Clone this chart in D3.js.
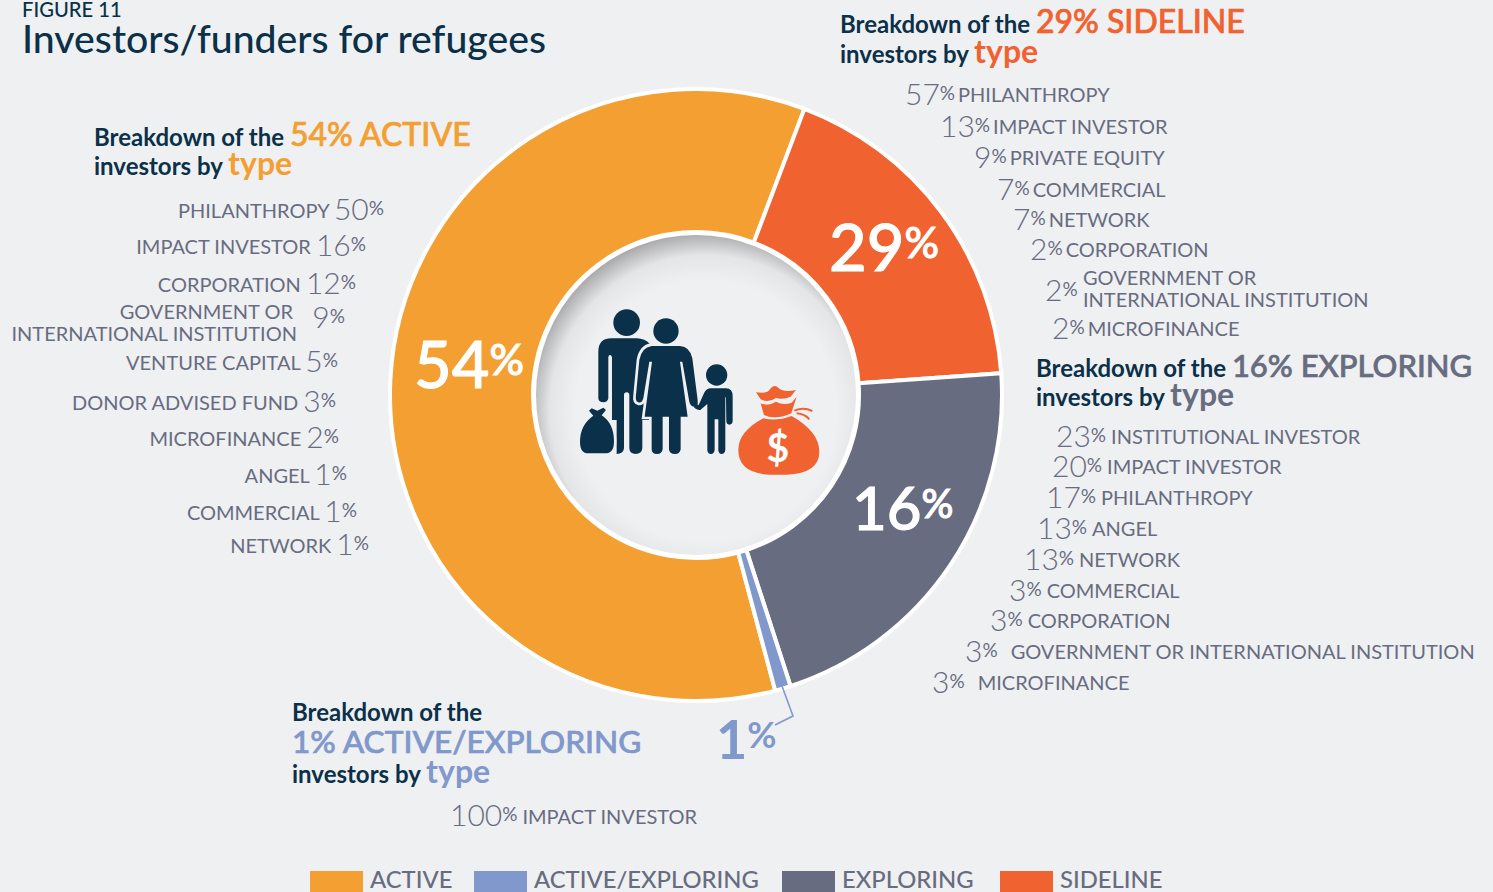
<!DOCTYPE html>
<html><head><meta charset="utf-8">
<script src="https://cdn.jsdelivr.net/npm/d3@7"></script>
<style>html,body{margin:0;padding:0;background:#eff0f2;overflow:hidden}svg{display:block}text{font-family:Lato,sans-serif}</style>
</head><body><svg id="c" width="1493" height="892"></svg>
<script>
// ---- data
const categories=["ACTIVE","ACTIVE/EXPLORING","EXPLORING","SIDELINE"];
const statedShares=[54,1,16,29];
// arc sizes as drawn in the picture (they differ from the printed shares)
const drawnShares=[59.93,0.83,21.14,18.1];
const activeTypes=["PHILANTHROPY","IMPACT INVESTOR","CORPORATION","GOVERNMENT OR\nINTERNATIONAL INSTITUTION","VENTURE CAPITAL","DONOR ADVISED FUND","MICROFINANCE","ANGEL","COMMERCIAL","NETWORK"];
const activeValues=[50,16,12,9,5,3,2,1,1,1];
const sidelineTypes=["PHILANTHROPY","IMPACT INVESTOR","PRIVATE EQUITY","COMMERCIAL","NETWORK","CORPORATION","GOVERNMENT OR\nINTERNATIONAL INSTITUTION","MICROFINANCE"];
const sidelineValues=[57,13,9,7,7,2,2,2];
const exploringTypes=["INSTITUTIONAL INVESTOR","IMPACT INVESTOR","PHILANTHROPY","ANGEL","NETWORK","COMMERCIAL","CORPORATION","GOVERNMENT OR INTERNATIONAL INSTITUTION","MICROFINANCE"];
const exploringValues=[23,20,17,13,13,3,3,3,3];
const mixedTypes=["IMPACT INVESTOR"];
const mixedValues=[100];

// ---- layout (not data)
const colors=new Map([["ACTIVE","#f39f32"],["ACTIVE/EXPLORING","#8098cb"],["EXPLORING","#686c80"],["SIDELINE","#f0622f"]]);
const NAVY="#0b3049",GREY="#686c80";
const activeEndX=[384,366,356,345,338,336,339,347,357,369];
const activeY=[218,254,292,326,370,410,446,483,520,553];
const sidelineX=[905,940,974,997,1013,1030,1045,1052];
const sidelineY=[103,135,166,198,228,258,299,337];
const exploringX=[1056,1052,1046,1037,1024,1009,990,965,932];
const exploringY=[445,475,506,537,568,599,629,660,691];
const exploringGap=[0,0,0,0,0,0,0,8,8];

const svg=d3.select("#c");
const defs=svg.append("defs");
const g=defs.append("radialGradient").attr("id","well").attr("cx","0.53").attr("cy","0.55").attr("r","0.56");
g.append("stop").attr("offset","0.72").attr("stop-color","#eff0f2");
g.append("stop").attr("offset","0.86").attr("stop-color","#e4e5e7");
g.append("stop").attr("offset","1").attr("stop-color","#a2a2a5");

svg.append("rect").attr("width",1493).attr("height",892).attr("fill","#eff0f2");

// title
svg.append("text").attr("x",22).attr("y",17).attr("font-size",20.2).attr("font-weight",500).attr("fill",NAVY).text("FIGURE 11");
svg.append("text").attr("x",22).attr("y",53).attr("font-size",39.2).attr("font-weight",500).attr("fill",NAVY).text("Investors/funders for refugees");

// donut
const cx=696,cy=395,R=306,r=163;
const pie=d3.pie().sort(null).value(d=>d.v).startAngle(165*Math.PI/180).endAngle((165+360)*Math.PI/180);
const order=[0,3,2,1].map(i=>({k:categories[i],v:drawnShares[i]}));
const arc=d3.arc().innerRadius(r).outerRadius(R);
const donut=svg.append("g").attr("transform",`translate(${cx},${cy})`);
donut.selectAll("path").data(pie(order)).join("path").attr("d",arc)
  .attr("fill",d=>colors.get(d.data.k)).attr("stroke","#fff").attr("stroke-width",4).attr("stroke-linejoin","miter");
donut.append("circle").attr("r",r-1).attr("fill","url(#well)").attr("stroke","#fff").attr("stroke-width",4);

// slice labels
function bigPct(x,y,v,size,color,weight,thick){
  const t=svg.append("text").attr("x",x).attr("y",y).attr("fill",color).attr("font-size",size).attr("font-weight",weight)
    .attr("stroke",color).attr("stroke-width",thick);
  t.append("tspan").text(v);
  t.append("tspan").attr("font-size",size*0.66).attr("dy",-size*0.2).text("%");
}
bigPct(414,388,statedShares[0],65,"#fff",500,1);
bigPct(829,271,statedShares[3],65,"#fff",500,1);
bigPct(852,530,statedShares[2],60,"#fff",500,1);
bigPct(716,759,statedShares[1],54,colors.get("ACTIVE/EXPLORING"),700,0);
svg.append("path").attr("d",d3.line()([[782,686],[793,716],[775,725]])).attr("fill","none")
  .attr("stroke",colors.get("ACTIVE/EXPLORING")).attr("stroke-width",1.6);

// headings
function heading(x,y,parts){
  const t=svg.append("text").attr("x",x).attr("y",y);
  parts.forEach(p=>t.append("tspan").attr("fill",p[1]).attr("stroke",p[3]===500?p[1]:"none").attr("stroke-width",0.7)
    .attr("font-size",p[2]).attr("font-weight",p[3]).text(p[0]));
}
const org=colors.get("ACTIVE"),red=colors.get("SIDELINE"),slt=colors.get("EXPLORING"),blu=colors.get("ACTIVE/EXPLORING");
const HS=24,CS=32;
heading(94,146,[["Breakdown of the ",NAVY,HS,700],[statedShares[0]+"% ACTIVE",org,CS,500]]);
heading(94,175,[["investors by ",NAVY,HS,700],["type",org,CS,700]]);
heading(840,33,[["Breakdown of the ",NAVY,HS,700],[statedShares[3]+"% SIDELINE",red,CS,500]]);
heading(840,63,[["investors by ",NAVY,HS,700],["type",red,CS,700]]);
heading(1036,377,[["Breakdown of the ",NAVY,HS,700],[statedShares[2]+"% EXPLORING",slt,31,500]]);
heading(1036,406,[["investors by ",NAVY,HS,700],["type",slt,CS,700]]);
heading(292,721,[["Breakdown of the",NAVY,HS,700]]);
heading(292,753,[[statedShares[1]+"% ACTIVE/EXPLORING",blu,31.6,500]]);
heading(292,783,[["investors by ",NAVY,HS,700],["type",blu,CS,700]]);

// rows
const LBL=20,NUM=30,PCT=19;
function num(t,v,lift){
  t.append("tspan").attr("font-size",NUM).attr("font-weight",300).attr("dy",lift).text(v);
  t.append("tspan").attr("font-size",PCT).attr("dy",-5).text("%");
}
function base(x,y,anchor){return svg.append("text").attr("x",x).attr("y",y).attr("text-anchor",anchor||"start")
  .attr("fill",GREY).attr("font-weight",400).attr("font-size",LBL);}
activeTypes.forEach((n,i)=>{
  const x=activeEndX[i],y=activeY[i];
  if(n.includes("\n")){
    const [a,b]=n.split("\n");
    base(293,y-7,"end").text(a);
    base(297,y+15,"end").text(b);
    num(base(x,y,"end"),activeValues[i],2);
  } else {
    const t=base(x,y,"end");
    t.append("tspan").text(n+" ");
    num(t,activeValues[i],2);
  }
});
sidelineTypes.forEach((n,i)=>{
  const x=sidelineX[i],y=sidelineY[i];
  if(n.includes("\n")){
    const [a,b]=n.split("\n");
    num(base(x,y),sidelineValues[i],2);
    base(1083,y-14,"start").text(a);
    base(1083,y+8,"start").text(b);
  } else {
    const t=base(x,y);
    num(t,sidelineValues[i],2);
    t.append("tspan").attr("dy",2).attr("dx",3).text(n);
  }
});
exploringTypes.forEach((n,i)=>{
  const t=base(exploringX[i],exploringY[i]);
  num(t,exploringValues[i],2);
  t.append("tspan").attr("dy",2).attr("dx",5+exploringGap[i]).text(n);
});
{const t=base(450,824);num(t,mixedValues[0],2);t.append("tspan").attr("dy",3).attr("dx",5).text(mixedTypes[0]);}

// legend
const legX=[310,474,782,1000];
categories.forEach((c,i)=>{
  svg.append("rect").attr("x",legX[i]).attr("y",871).attr("width",53).attr("height",21).attr("fill",colors.get(c));
  svg.append("text").attr("x",legX[i]+60).attr("y",888).attr("fill",GREY).attr("font-size",23.8).attr("font-weight",500).text(c);
});

// icon, drawn in a 3x local space
const ic=svg.append("g").attr("transform","translate(520,220) scale(0.3333)");
const bgc="#eff0f2";
// man
ic.append("circle").attr("cx",320).attr("cy",308).attr("r",40).attr("fill",NAVY);
ic.append("path").attr("fill",NAVY).attr("d","M235,395 Q235,355 275,355 L350,355 Q375,356 390,372 L390,600 L367,600 L367,685 Q365,702 347,702 Q329,702 328,685 L328,525 Q328,517 320,517 Q312,517 312,525 L312,685 Q310,702 290,702 L290,600 L276,600 L276,412 Q274,405 270,405 Q266,405 265,412 L265,535 Q263,547 250,547 Q236,547 235,535 Z");
// woman with halo
const woman="M395,378 L480,378 Q510,380 517,415 L533,540 Q535,558 527,560 Q512,562 508,545 L487,425 L480,425 L503,590 L482,590 L482,688 Q480,702 465,702 Q448,702 447,688 L447,590 L428,590 L428,688 Q426,702 411,702 Q395,702 395,688 L395,590 L374,590 L396,425 L388,425 L370,535 Q366,550 355,547 Q345,545 348,525 L358,420 Q365,382 395,378 Z";
ic.append("path").attr("fill",bgc).attr("stroke",bgc).attr("stroke-width",16).attr("d",woman);
ic.append("path").attr("fill",NAVY).attr("d",woman);
ic.append("circle").attr("cx",438).attr("cy",333).attr("r",38).attr("fill",NAVY);
// child
ic.append("circle").attr("cx",590).attr("cy",465).attr("r",32).attr("fill",NAVY);
ic.append("path").attr("fill",NAVY).attr("d","M570,505 L618,505 Q638,506 638,528 L638,604 Q637,614 628,614 Q620,614 619,604 L618,532 L616,532 L616,690 Q614,702 605,702 Q596,702 595,690 L595,598 L584,598 L584,690 Q582,702 573,702 Q563,702 562,690 L562,552 L541,570 Q530,572 522,562 L527,552 L536,555 L552,520 Q558,506 570,505 Z");
// left bag
const bag="M215,565 L232,572 L250,563 L258,570 L245,586 Q282,610 282,665 Q282,700 255,700 L205,700 Q180,700 180,665 Q180,615 220,587 L207,572 Z";
ic.append("path").attr("fill",bgc).attr("stroke",bgc).attr("stroke-width",14).attr("d",bag);
ic.append("path").attr("fill",NAVY).attr("d",bag);
// money bag
ic.append("path").attr("fill",red).attr("d","M708,517 Q740,522 748,510 Q762,490 775,503 Q790,518 828,510 L812,530 Q790,540 768,534 Q745,550 722,538 Z");
ic.append("path").attr("fill",red).attr("d","M722,550 Q745,560 768,545 Q790,558 815,548 L830,530 L814,580 Q790,592 765,592 Q745,592 732,585 Z");
ic.append("path").attr("fill",red).attr("d","M730,595 Q770,605 815,588 Q898,635 898,695 Q898,760 800,764 L750,764 Q655,760 655,690 Q655,635 730,595 Z");
ic.append("path").attr("fill","none").attr("stroke",red).attr("stroke-width",6).attr("d","M823,572 Q850,560 877,573 M830,580 Q855,582 868,598");
ic.append("text").attr("x",774).attr("y",725).attr("text-anchor","middle").attr("fill","#fff").attr("font-size",118).attr("font-weight",700).text("$");
</script></body></html>
